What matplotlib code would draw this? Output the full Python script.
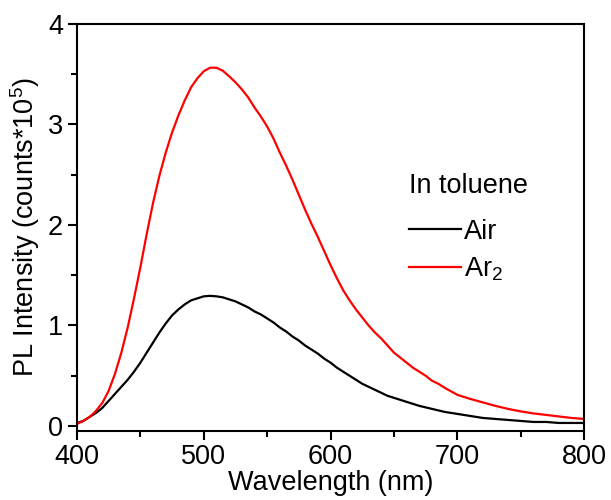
import numpy as np
import matplotlib
matplotlib.use("Agg")
import matplotlib.pyplot as plt
from matplotlib.ticker import MultipleLocator

plt.rcParams['font.family'] = ['Liberation Sans', 'DejaVu Sans']
plt.rcParams['mathtext.fontset'] = 'custom'
plt.rcParams['mathtext.rm'] = 'Liberation Sans'

# wavelength (nm)
wavelength = [400, 405, 410, 415, 420, 425, 430, 435, 440, 445,
              450, 455, 460, 465, 470, 475, 480, 485, 490, 495,
              500, 505, 510, 515, 520, 525, 530, 535, 540, 545,
              550, 555, 560, 565, 570, 575, 580, 585, 590, 595,
              600, 605, 610, 615, 620, 625, 630, 635, 640, 645,
              650, 655, 660, 665, 670, 675, 680, 685, 690, 695,
              700, 710, 720, 730, 740, 750, 760, 770, 780, 790, 800]

# PL intensity (counts*10^5), in air
air = [0.03, 0.05, 0.09, 0.13, 0.18, 0.25, 0.32, 0.39, 0.46, 0.54,
       0.63, 0.73, 0.83, 0.93, 1.02, 1.10, 1.16, 1.21, 1.25, 1.27,
       1.29, 1.295, 1.29, 1.28, 1.26, 1.24, 1.21, 1.18, 1.14, 1.11,
       1.07, 1.03, 0.98, 0.94, 0.89, 0.85, 0.80, 0.76, 0.72, 0.67,
       0.63, 0.58, 0.54, 0.50, 0.46, 0.42, 0.39, 0.36, 0.33, 0.30,
       0.28, 0.26, 0.24, 0.22, 0.20, 0.185, 0.17, 0.155, 0.14, 0.13,
       0.12, 0.10, 0.08, 0.07, 0.06, 0.05, 0.04, 0.04, 0.03, 0.03, 0.03]

# PL intensity (counts*10^5), under Ar
ar2 = [0.02, 0.05, 0.09, 0.15, 0.23, 0.35, 0.52, 0.73, 0.98, 1.27,
       1.58, 1.91, 2.22, 2.49, 2.72, 2.92, 3.09, 3.24, 3.37, 3.46,
       3.53, 3.565, 3.565, 3.535, 3.48, 3.42, 3.35, 3.27, 3.17, 3.08,
       2.98, 2.86, 2.72, 2.59, 2.45, 2.30, 2.15, 2.01, 1.88, 1.74,
       1.60, 1.47, 1.35, 1.25, 1.16, 1.08, 1.00, 0.93, 0.87, 0.80,
       0.73, 0.68, 0.63, 0.58, 0.54, 0.50, 0.45, 0.42, 0.38, 0.345,
       0.31, 0.27, 0.235, 0.20, 0.17, 0.145, 0.125, 0.11, 0.095, 0.08, 0.07]

fs = 19.5

fig = plt.figure(figsize=(6.11, 5.0), dpi=100)
ax = fig.add_axes([0.126, 0.138, 0.830, 0.814])

ax.plot(wavelength, air, color='black', lw=1.6, label='Air')
ax.plot(wavelength, ar2, color='red', lw=1.6, label='Ar$_2$')

ax.set_xlim(400, 800)
ax.set_ylim(-0.05, 4)
ax.xaxis.set_major_locator(MultipleLocator(100))
ax.xaxis.set_minor_locator(MultipleLocator(50))
ax.yaxis.set_major_locator(MultipleLocator(1))
ax.yaxis.set_minor_locator(MultipleLocator(0.5))
ax.tick_params(which='both', direction='out', width=1.5, labelsize=fs,
               top=False, right=False)
ax.tick_params(axis='x', pad=3)
ax.tick_params(axis='y', pad=3.5)
ax.tick_params(which='major', length=6.5)
ax.tick_params(which='minor', length=4.3)
for sp in ax.spines.values():
    sp.set_linewidth(1.5)

ax.set_xlabel("Wavelength (nm)", fontsize=fs, labelpad=0)
ax.set_ylabel("PL Intensity (counts*10$^5$)", fontsize=fs, labelpad=4)

leg = ax.legend(title="In toluene", loc='upper left',
                bbox_to_anchor=(0.655, 0.633), frameon=False,
                fontsize=fs, title_fontsize=fs, handlelength=1.9,
                handletextpad=0.12, labelspacing=0.41, borderpad=0,
                borderaxespad=0)
leg._legend_box.align = "left"
leg._legend_box.sep = 14  # extra gap under the title

fig.savefig("out.png", dpi=100)
